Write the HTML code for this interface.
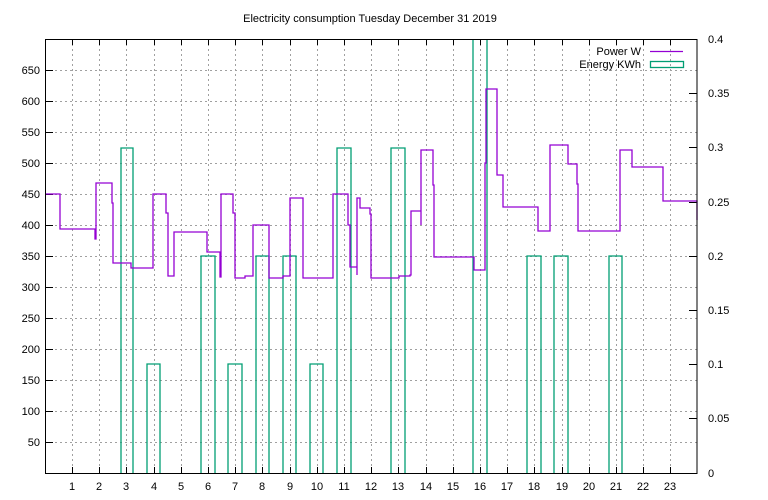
<!DOCTYPE html>
<html><head><meta charset="utf-8"><style>
html,body{margin:0;padding:0;background:#fff}
svg{display:block}
text{font-family:"Liberation Sans","DejaVu Sans",sans-serif;font-size:11px;fill:#000}
</style></head><body>
<svg width="768" height="500" viewBox="0 0 768 500" xmlns="http://www.w3.org/2000/svg">
<rect width="768" height="500" fill="#fff"/>
<text x="370" y="22" text-anchor="middle">Electricity consumption Tuesday December 31 2019</text>
<g stroke="#a0a0a0" stroke-width="1" stroke-dasharray="2,3" fill="none">
<path d="M45 442.5H697M45 411.5H697M45 380.5H697M45 349.5H697M45 318.5H697M45 287.5H697M45 256.5H697M45 225.5H697M45 194.5H697M45 163.5H697M45 132.5H697M45 101.5H697M45 70.5H697"/>
<path d="M72.5 39V473M99.5 39V473M126.5 39V473M154.5 39V473M181.5 39V473M208.5 39V473M235.5 39V473M262.5 39V473M290.5 39V473M317.5 39V473M344.5 39V473M371.5 39V473M398.5 39V473M426.5 39V473M453.5 39V473M480.5 39V473M507.5 39V473M534.5 39V473M562.5 39V473M589.5 39V473M616.5 39V473M643.5 39V473M670.5 39V473"/>
</g>
<g stroke="#000" stroke-width="1">
<path d="M45 442.5h8M45 411.5h8M45 380.5h8M45 349.5h8M45 318.5h8M45 287.5h8M45 256.5h8M45 225.5h8M45 194.5h8M45 163.5h8M45 132.5h8M45 101.5h8M45 70.5h8"/>
<path d="M697 418.5h-8M697 364.5h-8M697 310.5h-8M697 256.5h-8M697 202.5h-8M697 147.5h-8M697 93.5h-8"/>
<path d="M72.5 473v-6M99.5 473v-6M126.5 473v-6M154.5 473v-6M181.5 473v-6M208.5 473v-6M235.5 473v-6M262.5 473v-6M290.5 473v-6M317.5 473v-6M344.5 473v-6M371.5 473v-6M398.5 473v-6M426.5 473v-6M453.5 473v-6M480.5 473v-6M507.5 473v-6M534.5 473v-6M562.5 473v-6M589.5 473v-6M616.5 473v-6M643.5 473v-6M670.5 473v-6"/>
<path d="M72.5 39v6M99.5 39v6M126.5 39v6M154.5 39v6M181.5 39v6M208.5 39v6M235.5 39v6M262.5 39v6M290.5 39v6M317.5 39v6M344.5 39v6M371.5 39v6M398.5 39v6M426.5 39v6M453.5 39v6M480.5 39v6M507.5 39v6M534.5 39v6M562.5 39v6M589.5 39v6M616.5 39v6M643.5 39v6M670.5 39v6"/>
</g>
<g stroke="#009e73" stroke-width="1.3" fill="none">
<path d="M121 473V148H133V473M147 473V364H160V473M201 473V256H215V473M228 473V364H242V473M256 473V256H269V473M283 473V256H296V473M310 473V364H323V473M337 473V148H351V473M391 473V148H405V473M473 473V39M487 39V473M527 473V256H541V473M554 473V256H568V473M609 473V256H622V473"/>
</g>
<g stroke="#9400d3" stroke-width="1.3" fill="none">
<path d="M45 194H60V229H95V239H96V183H112V203H113V263H131V268H153V194H166V213H168V276H174V232H207V252H220V277H221V194H233V213H235V278H245V276H253V225H269V278H283V276H290V198H303V278H333V194H348V225H350V267H357V275V198H360V208H370V214H371V278H399V276H410V275H411V211H421V225V150H433V185H434V257H474V270H485V163H486V89H497V175H503V207H538V231H550V145H568V164H577V184H578V231H620V150H632V167H663V201H697V220"/>
</g>
<rect x="45.5" y="39.5" width="651.5" height="434" fill="none" stroke="#000" stroke-width="1"/>
<g text-anchor="end">
<text x="40" y="446">50</text><text x="40" y="415">100</text><text x="40" y="384">150</text><text x="40" y="353">200</text><text x="40" y="322">250</text><text x="40" y="291">300</text><text x="40" y="260">350</text><text x="40" y="229">400</text><text x="40" y="198">450</text><text x="40" y="167">500</text><text x="40" y="136">550</text><text x="40" y="105">600</text><text x="40" y="74">650</text>
</g>
<g text-anchor="start">
<text x="708" y="477">0</text><text x="708" y="422">0.05</text><text x="708" y="368">0.1</text><text x="708" y="314">0.15</text><text x="708" y="260">0.2</text><text x="708" y="206">0.25</text><text x="708" y="151">0.3</text><text x="708" y="97">0.35</text><text x="708" y="43">0.4</text>
</g>
<g text-anchor="middle">
<text x="72" y="490">1</text><text x="99" y="490">2</text><text x="126" y="490">3</text><text x="154" y="490">4</text><text x="181" y="490">5</text><text x="208" y="490">6</text><text x="235" y="490">7</text><text x="262" y="490">8</text><text x="290" y="490">9</text><text x="317" y="490">10</text><text x="344" y="490">11</text><text x="371" y="490">12</text><text x="398" y="490">13</text><text x="426" y="490">14</text><text x="453" y="490">15</text><text x="480" y="490">16</text><text x="507" y="490">17</text><text x="534" y="490">18</text><text x="562" y="490">19</text><text x="589" y="490">20</text><text x="616" y="490">21</text><text x="643" y="490">22</text><text x="670" y="490">23</text>
</g>
<text x="641" y="55" text-anchor="end">Power W</text>
<path d="M650 51.5H683" stroke="#9400d3" stroke-width="1.3"/>
<text x="641" y="68" text-anchor="end">Energy KWh</text>
<rect x="650.5" y="61.5" width="33" height="6" fill="none" stroke="#009e73" stroke-width="1.3"/>
</svg>
</body></html>
